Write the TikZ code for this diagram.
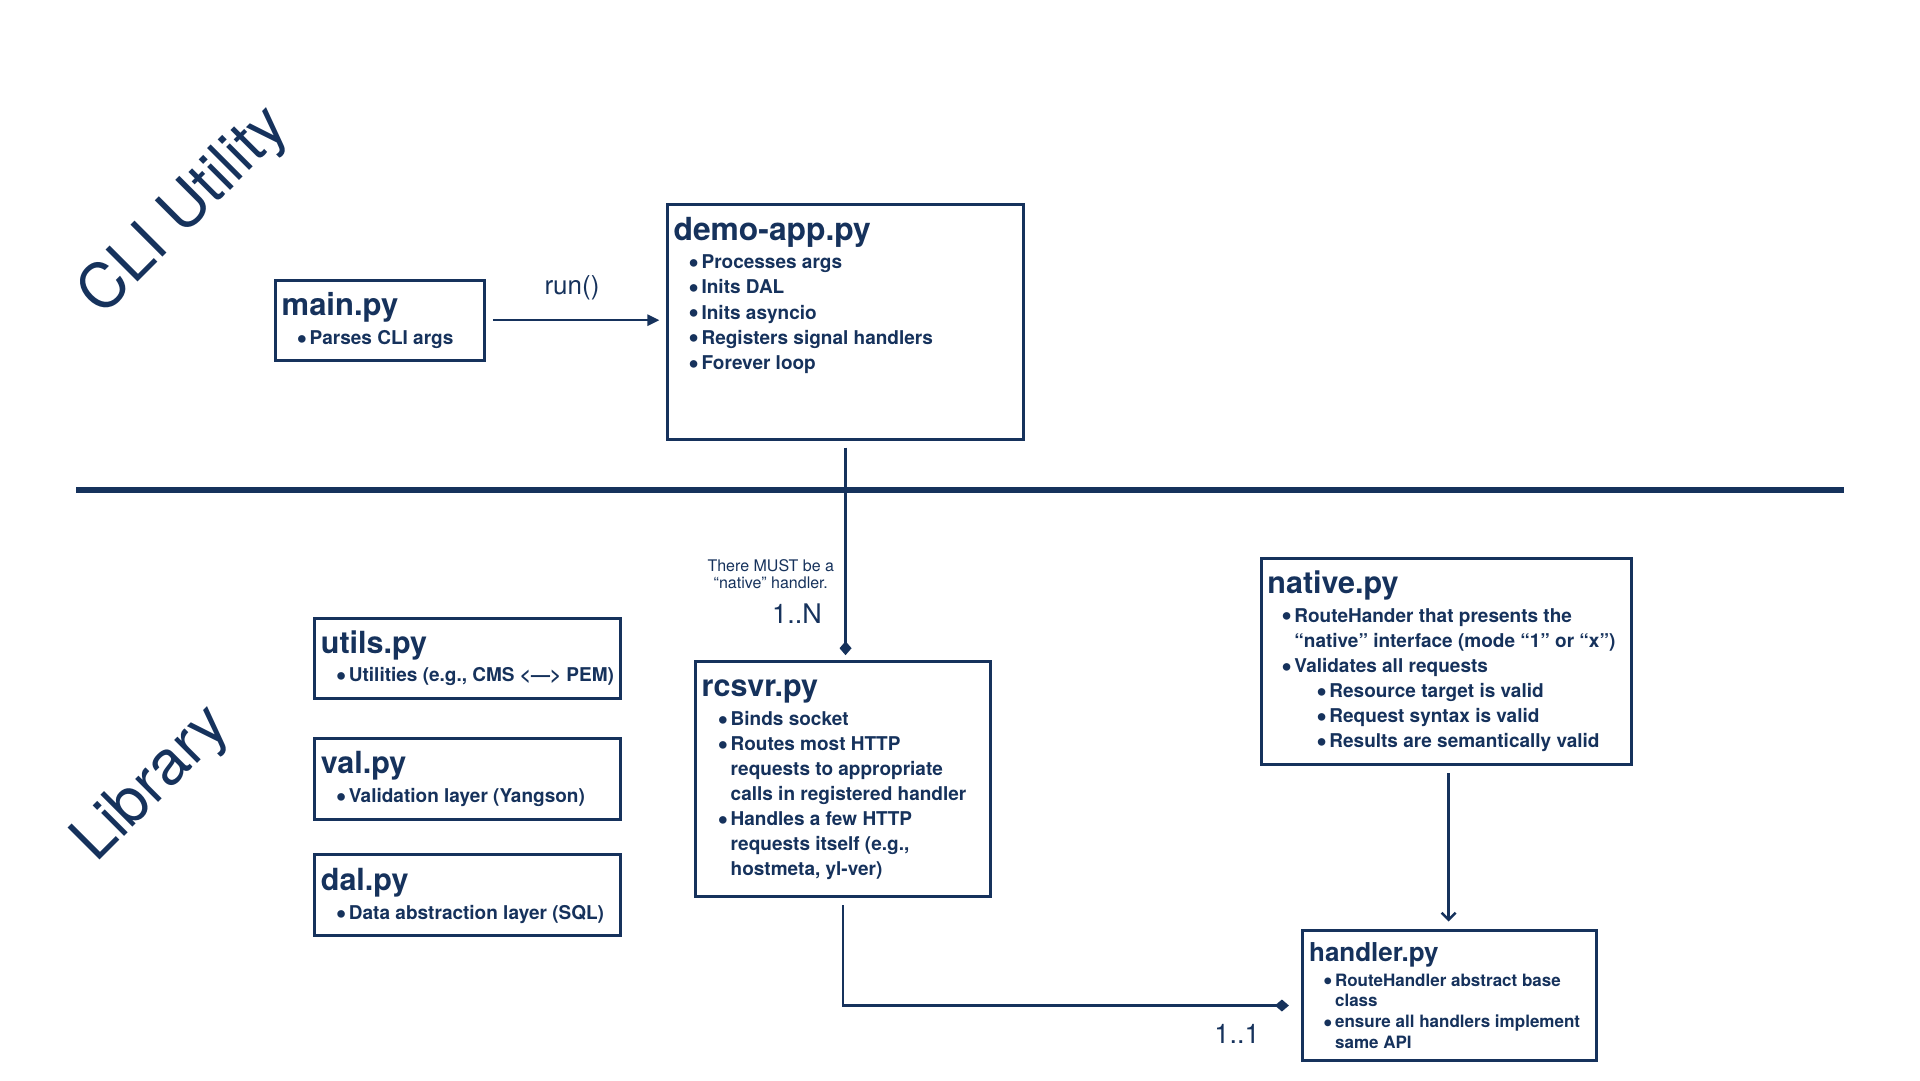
\documentclass[tikz,border=0pt]{standalone}
\usepackage{fontspec}
\usepackage{graphicx}
\setmainfont{TeX Gyre Heros}
\usetikzlibrary{arrows.meta,calc}
\definecolor{navy}{HTML}{16325C}
\newcommand{\bdot}{\raisebox{-0.2em}{\scalebox{1.6}{\textbullet}}}
\newcommand{\bitem}[1]{\par\hspace*{0pt}\llap{\bdot\hspace{2.5pt}}#1}
\newcommand{\bsub}[1]{\par\hspace*{35pt}\llap{\bdot\hspace{2.5pt}}#1}
\newcommand{\cont}[1]{\par #1}
\newcommand{\lfont}{\fontsize{19}{25.1}\selectfont\bfseries}
\newcommand{\sfontx}{\fontsize{17}{20.8}\selectfont\bfseries}
\newcommand{\lbox}[2]{\parbox[t]{420pt}{\raggedright #1#2}}
\begin{document}
\begin{tikzpicture}[x=1pt,y=-1pt,
  box/.style={draw=navy, line width=3pt, inner sep=0pt, outer sep=0pt, anchor=north west},
  ttl/.style={anchor=base west, inner sep=0pt, text=navy, font=\fontsize{30.5}{36}\selectfont\bfseries},
  lst/.style={anchor=base west, inner sep=0pt, text=navy},
  conn/.style={draw=navy, line width=2.5pt},
  lbl/.style={inner sep=0pt, text=navy},
  big/.style={inner sep=0pt, text=navy, rotate=45, font=\fontsize{62}{72}\selectfont}
]
\fill[white] (0,0) rectangle (1920,1080);
\useasboundingbox (0,0) rectangle (1920,1080);

% boxes
\node[box, minimum width=209.4pt, minimum height=79.6pt] (main) at (275.5,280.4) {};
\node[box, minimum width=356.3pt, minimum height=235.1pt] (demo) at (667.4,204.5) {};
\node[box, minimum width=306.1pt, minimum height=79.6pt] (utils) at (314.7,618.4) {};
\node[box, minimum width=306.1pt, minimum height=80.8pt] (val) at (314.7,738.4) {};
\node[box, minimum width=306.1pt, minimum height=80.8pt] (dal) at (314.7,854.7) {};
\node[box, minimum width=295.1pt, minimum height=235.1pt] (rcsvr) at (695.5,661.2) {};
\node[box, minimum width=369.8pt, minimum height=205.7pt] (native) at (1261.2,558.4) {};
\node[box, minimum width=293.9pt, minimum height=129.8pt] (handler) at (1302.9,930.6) {};

% titles
\node[ttl, font=\fontsize{31}{36}\selectfont\bfseries] (mainT) at ($(main.north west)+(6,35.5)$) {main.py};
\node[ttl, font=\fontsize{31.8}{36}\selectfont\bfseries] (demoT) at ($(demo.north west)+(6,35.5)$) {demo-app.py};
\node[ttl] (utilsT) at ($(utils.north west)+(6,35)$) {utils.py};
\node[ttl] (valT) at ($(val.north west)+(6,35.5)$) {val.py};
\node[ttl] (dalT) at ($(dal.north west)+(6,35.5)$) {dal.py};
\node[ttl] (rcsvrT) at ($(rcsvr.north west)+(6,35.5)$) {rcsvr.py};
\node[ttl] (nativeT) at ($(native.north west)+(6,35)$) {native.py};
\node[ttl, font=\fontsize{26}{31}\selectfont\bfseries] (handlerT) at ($(handler.north west)+(6,30.5)$) {handler.py};

% lists
\node[lst] (mainL) at ($(main.north west)+(34,64.5)$) {\lbox{\lfont}{\bitem{Parses CLI args}}};
\node[lst] (demoL) at ($(demo.north west)+(34,64.3)$) {\lbox{\lfont}{\bitem{Processes args}\bitem{Inits DAL}\bitem{Inits asyncio}\bitem{Registers signal handlers}\bitem{Forever loop}}};
\node[lst] (utilsL) at ($(utils.north west)+(34,63)$) {\lbox{\lfont}{\bitem{Utilities (e.g., CMS <—> PEM)}}};
\node[lst] (valL) at ($(val.north west)+(34,64.5)$) {\lbox{\lfont}{\bitem{Validation layer (Yangson)}}};
\node[lst] (dalL) at ($(dal.north west)+(34,64.5)$) {\lbox{\lfont}{\bitem{Data abstraction layer (SQL)}}};
\node[lst] (rcsvrL) at ($(rcsvr.north west)+(35,64)$) {\lbox{\lfont}{\bitem{Binds socket}\bitem{Routes most HTTP}\cont{requests to appropriate}\cont{calls in registered handler}\bitem{Handles a few HTTP}\cont{requests itself (e.g.,}\cont{hostmeta, yl-ver)}}};
\node[lst] (nativeL) at ($(native.north west)+(33,63.6)$) {\lbox{\lfont}{\bitem{RouteHander that presents the}\cont{“native” interface (mode “1” or “x”)}\bitem{Validates all requests}\bsub{Resource target is valid}\bsub{Request syntax is valid}\bsub{Results are semantically valid}}};
\node[lst] (handlerL) at ($(handler.north west)+(32,55.4)$) {\lbox{\sfontx}{\bitem{RouteHandler abstract base}\cont{class}\bitem{ensure all handlers implement}\cont{same API}}};

% separator
\coordinate (ruleL) at (76,489.8);
\coordinate (ruleR) at (1844,489.8);
\draw[navy, line width=6pt] (ruleL) -- (ruleR);

% connectors
\draw[conn, shorten <=8pt, shorten >=8pt, -{Triangle[length=12pt,width=11pt]}] (main.east) -- (main.east -| demo.west);
\node[lbl, anchor=base, font=\fontsize{26}{31}\selectfont] (runlbl) at (572,294) {run()};

\draw[conn, shorten <=8pt, shorten >=6pt, -{Diamond[length=14pt,width=12pt]}] (demo.south) -- (demo.south |- rcsvr.north);
\node[lbl, anchor=base, align=center, font=\fontsize{16}{16.5}\selectfont] (notelbl) at (770.8,588) {There MUST be a\\“native” handler.};
\node[lbl, anchor=base, font=\fontsize{27}{32}\selectfont] (nlbl) at (797,623) {1..N};

\coordinate (hy) at (0,1005.5);
\coordinate (bend) at (rcsvr.south |- hy);
\draw[conn, shorten <=9pt, shorten >=14pt, -{Diamond[length=14pt,width=12pt]}] (rcsvr.south) -- (bend) -- (bend -| handler.west);
\node[lbl, anchor=base, font=\fontsize{27}{32}\selectfont] (onelbl) at (1237,1043) {1..1};

\coordinate (nx) at (1448.6,0);
\draw[conn, shorten <=9pt, shorten >=9pt, -{Straight Barb[length=7pt,width=14pt]}] (native.south -| nx) -- (handler.north -| nx);

% section labels
\node[big] (cli) at (185,212) {CLI Utility};
\node[big] (lib) at (153,785) {Library};
\end{tikzpicture}
\end{document}
